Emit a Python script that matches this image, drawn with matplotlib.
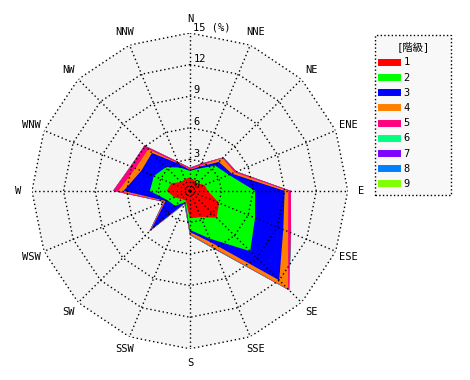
import numpy as np
import matplotlib
matplotlib.use("Agg")
from matplotlib import pyplot as plt
from matplotlib.lines import Line2D

plt.rcParams["font.family"] = ["DejaVu Sans Mono", "Noto Sans CJK JP"]
plt.rcParams["font.size"] = 7.5

DIRECTIONS = ["N", "NNE", "NE", "ENE", "E", "ESE", "SE", "SSE",
              "S", "SSW", "SW", "WSW", "W", "WNW", "NW", "NNW"]
CLASSES = ["1", "2", "3", "4", "5", "6", "7", "8", "9"]
COLORS = ["#ff0000", "#00ff00", "#0000ff", "#ff8000", "#ff0080",
          "#00ff80", "#8000ff", "#0080ff", "#80ff00"]
RINGS = [3, 6, 9, 12, 15]

# frequency (%) of each class, per direction N..NNW
FREQ_1 = [1.3, 1.1, 1.0, 1.5, 1.7, 3.0, 3.6, 2.7, 2.6, 1.0, 1.1, 1.6, 2.2, 1.9, 1.2, 1.2]
FREQ_2 = [0.6, 1.2, 2.4, 2.5, 4.5, 3.7, 4.5, 2.2, 1.1, 0.15, 0.9, 0.7, 1.6, 1.8, 2.0, 1.2]
FREQ_3 = [0.1, 0.2, 0.5, 0.3, 2.8, 2.9, 3.9, 0.4, 0.2, 0.1, 3.2, 0.2, 2.5, 1.3, 1.9, 0.4]
FREQ_4 = [0.05, 0.1, 0.5, 0.3, 0.35, 0.5, 1.2, 0.5, 0.2, 0.03, 0.1, 0.1, 0.5, 0.6, 0.5, 0.05]
FREQ_5 = [0.15, 0.2, 0.1, 0.2, 0.25, 0.3, 0.1, 0.1, 0.05, 0.02, 0.1, 0.1, 0.5, 0.5, 0.5, 0.15]
FREQ_6 = [0, 0, 0, 0, 0, 0, 0.05, 0.05, 0.05, 0.05, 0.05, 0, 0, 0, 0, 0]
FREQ_7 = [0] * 16
FREQ_8 = [0] * 16
FREQ_9 = [0] * 16


def plot():
    freqs = np.array([FREQ_1, FREQ_2, FREQ_3, FREQ_4, FREQ_5,
                      FREQ_6, FREQ_7, FREQ_8, FREQ_9])
    cum = np.cumsum(freqs, axis=0)
    theta = np.deg2rad(np.arange(len(DIRECTIONS)) * 360.0 / len(DIRECTIONS))
    theta_c = np.append(theta, theta[0])

    fig = plt.figure(figsize=(4.7, 3.8), dpi=100)
    ax = fig.add_axes([0.068, 0.0816, 0.672, 0.832], projection="polar")
    ax.set_theta_zero_location("N")
    ax.set_theta_direction(-1)
    ax.set_ylim(0, RINGS[-1])
    ax.axis("off")

    # polygon background
    ax.fill(theta_c, [RINGS[-1]] * len(theta_c), color="#f4f4f4", lw=0, zorder=0)

    # stacked classes, outermost first
    for k in reversed(range(len(CLASSES))):
        ax.fill(theta_c, np.append(cum[k], cum[k][0]), color=COLORS[k],
                lw=0, zorder=1)

    dots = (0, (1, 2))
    for r in RINGS:
        ax.plot(theta_c, [r] * len(theta_c), color="black", lw=1,
                ls=dots, zorder=3)
    for t in theta:
        ax.plot([t, t], [0, RINGS[-1]], color="black", lw=1, ls=dots, zorder=3)

    for t, name in zip(theta, DIRECTIONS):
        ax.text(t, 16.3, name, ha="center", va="center", clip_on=False)

    for r in [0] + RINGS:
        label = "%d (%%)" % r if r == RINGS[-1] else str(r)
        ax.annotate(label, xy=(0, r), xytext=(2.5, 0.5),
                    textcoords="offset points", ha="left", va="bottom",
                    zorder=4)

    handles = [Line2D([0], [0], color=c, lw=5) for c in COLORS]
    leg = fig.legend(handles, CLASSES, title="[階級]", loc="upper left",
                     bbox_to_anchor=(375 / 470, 1 - 35 / 380, 76 / 470, 0),
                     mode="expand", borderaxespad=0, borderpad=0.6,
                     handlelength=1.55, handletextpad=0.6, labelspacing=0.5,
                     fancybox=False, framealpha=1, title_fontsize=7.5)
    frame = leg.get_frame()
    frame.set_facecolor("#f8f8f8")
    frame.set_edgecolor("black")
    frame.set_linestyle(":")
    frame.set_linewidth(1)

    fig.savefig("out.png", dpi=100)


def main():
    plot()


if __name__ == "__main__":
    main()
